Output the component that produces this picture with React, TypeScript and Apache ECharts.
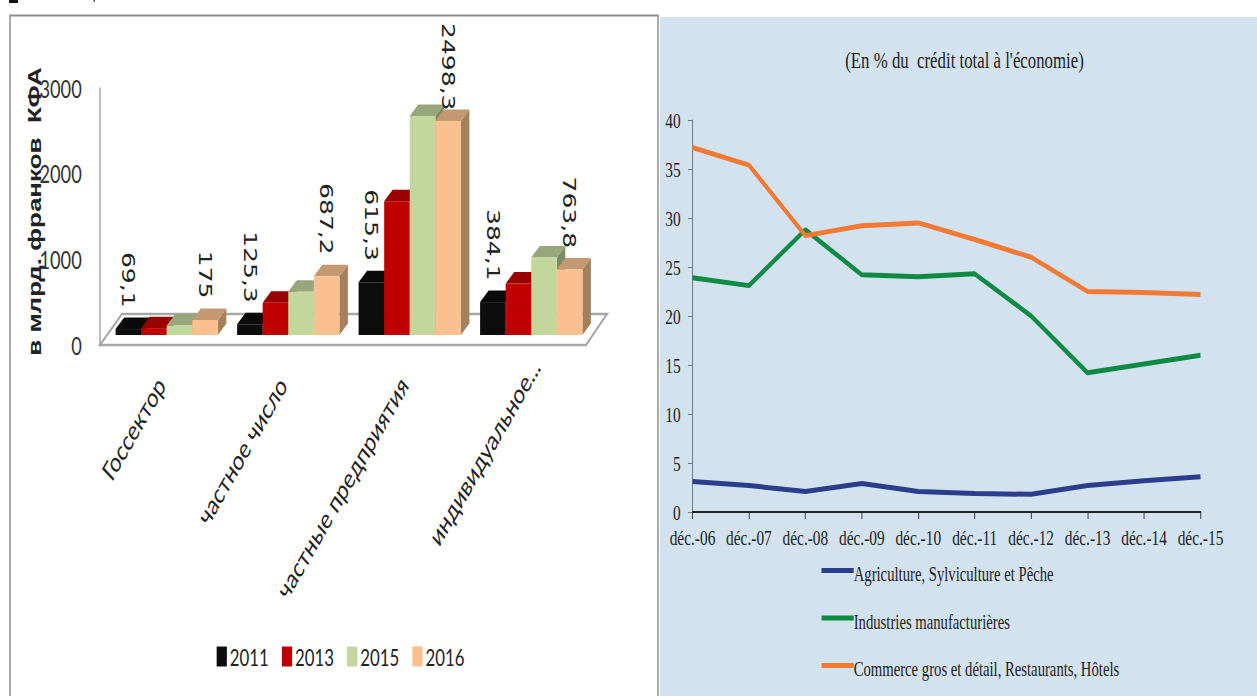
import React, { useEffect, useRef } from "react";
import * as echarts from "echarts";

const categories = ["Госсектор", "частное число", "частные предприятия", "индивидуальное..."];
const years = ["2011", "2013", "2015", "2016"];
const values2011 = [69.1, 125.3, 615.3, 384.1];
const values2013 = [80, 376, 1560, 600];
const values2015 = [110, 506, 2555, 906];
const values2016 = [175, 687.2, 2498.3, 763.8];
const yearValues = [values2011, values2013, values2015, values2016];
const labelled = [true, false, false, true];
const frontColors = ["#0d0d0d", "#c00000", "#c3d69b", "#fac090"];
const topColors = ["#0a0a0a", "#980000", "#98a67c", "#c49870"];
const sideColors = ["#050505", "#800000", "#7f8c5f", "#a5805d"];

const dates = ["déc.-06", "déc.-07", "déc.-08", "déc.-09", "déc.-10", "déc.-11", "déc.-12", "déc.-13", "déc.-14", "déc.-15"];
const agriculture = [3.1, 2.7, 2.1, 2.9, 2.1, 1.9, 1.8, 2.7, 3.2, 3.6];
const industries = [23.9, 23.1, 28.8, 24.2, 24.0, 24.3, 20, 14.2, 15.1, 16];
const commerce = [37.2, 35.4, 28.2, 29.2, 29.5, 27.8, 26, 22.5, 22.4, 22.2];
const lineNames = ["Agriculture, Sylviculture et Pêche", "Industries manufacturières", "Commerce gros et détail, Restaurants, Hôtels"];
const lineValues = [agriculture, industries, commerce];
const lineColors = ["#2b3d8b", "#0f8a43", "#f47932"];

const LSX = 0.73;
const RSX = 0.7;
const lx = (p: number) => p / LSX;
const rx = (p: number) => (p - 660) / RSX;

function leftOption(): any {
  const floor = 10;
  const dx = lx(8.5);
  const dy = 11.5;
  return {
    animation: false,
    graphic: [
      { type: "rect", shape: { x: lx(9), y: 0, width: lx(9), height: 3 }, style: { fill: "#111" } },
      { type: "rect", shape: { x: lx(93.5), y: 0, width: lx(1.5), height: 2 }, style: { fill: "#555" } },
      { type: "rect", z: -2, shape: { x: lx(10), y: 15.5, width: lx(648), height: 690 }, style: { fill: "#fff", stroke: "#8c8c8c", lineWidth: 2 } },
      {
        type: "polygon",
        z: -1,
        shape: { points: [[lx(100), 345], [lx(586), 345], [lx(607), 314], [lx(122), 314]] },
        style: { fill: "#fff", stroke: "#a6a6a6", lineWidth: 2.5 },
      },
    ],
    grid: { left: lx(106), width: lx(486), top: 88, height: 257 },
    legend: {
      left: lx(213),
      top: 640,
      data: years,
      icon: "rect",
      itemWidth: 14,
      itemHeight: 20,
      itemGap: 18,
      textStyle: { fontFamily: "Lato", fontSize: 23, color: "#222", padding: [0, 0, 0, -1] },
    },
    xAxis: {
      type: "category",
      data: categories.map((value, i) =>
        i === categories.length - 1 ? { value, textStyle: { padding: [0, -10, 0, 0] } } : value
      ),
      axisLine: { show: false },
      axisTick: { show: false },
      axisLabel: { rotate: 52, margin: 25, interval: 0, fontFamily: "Lato", fontSize: 27, color: "#222", padding: [0, 13, 0, 0] },
    },
    yAxis: {
      type: "value",
      min: 0,
      max: 3000,
      interval: 1000,
      offset: lx(6),
      name: "в млрд. франков  КФА",
      nameLocation: "middle",
      nameGap: 77,
      nameMoveOverlap: false,
      nameTextStyle: { fontFamily: "Liberation Sans", fontWeight: "bold", fontSize: 26, color: "#222", padding: [0, 0, 0, 10] },
      splitLine: { show: false },
      axisTick: { show: false },
      axisLine: { show: true, lineStyle: { color: "#8c8c8c", width: 1.5 } },
      axisLabel: { fontFamily: "Lato", fontSize: 25, color: "#333", margin: 25, formatter: (v: number) => String(v) },
    },
    series: years.map((year, s) => ({
      type: "custom",
      name: year,
      itemStyle: { color: frontColors[s] },
      data: yearValues[s].map((v, i) => [i, v]),
      encode: { x: 0, y: 1 },
      renderItem: (_: any, api: any) => {
        const value = api.value(1);
        const p = api.coord([api.value(0), value]);
        const base = api.coord([api.value(0), 0]);
        const bw = api.size([1, 0])[0] * 0.2105;
        const x0 = p[0] + (s - 2) * bw;
        const x1 = x0 + bw;
        const top = p[1] - floor;
        const bot = base[1] - floor;
        const children: any[] = [
          { type: "polygon", shape: { points: [[x1, top], [x1 + dx, top - dy], [x1 + dx, bot - dy], [x1, bot]] }, style: { fill: sideColors[s] } },
          { type: "polygon", shape: { points: [[x0, top], [x0 + dx, top - dy], [x1 + dx, top - dy], [x1, top]] }, style: { fill: topColors[s] } },
          { type: "rect", shape: { x: x0, y: top, width: bw, height: bot - top }, style: { fill: frontColors[s] } },
        ];
        if (labelled[s]) {
          children.push({
            type: "text",
            x: (x0 + x1) / 2,
            y: top - dy - (value > 2000 ? -1 : 10),
            rotation: -Math.PI / 2,
            style: {
              text: String(value).replace(".", ","),
              font: "25px 'DejaVu Sans'",
              fill: "#222",
              align: "right",
              verticalAlign: "middle",
            },
          });
        }
        return { type: "group", children };
      },
    })),
  };
}

function rightOption(): any {
  return {
    animation: false,
    backgroundColor: "#d2e2ef",
    title: {
      text: "(En % du  crédit total à l'économie)",
      left: rx(961),
      top: 43,
      textAlign: "center",
      textStyle: { fontFamily: "Liberation Serif", fontWeight: "normal", fontSize: 24, color: "#222" },
    },
    grid: { left: rx(692.5), width: (1200.5 - 692.5) / RSX, top: 120, height: 392 },
    legend: {
      orient: "vertical",
      left: rx(818),
      top: 559,
      data: lineNames,
      icon: "path://M0 0H46V5H0Z M0 13h0.01",
      itemWidth: 46,
      itemHeight: 13,
      itemGap: 26.5,
      textStyle: { fontFamily: "Liberation Serif", fontSize: 21, color: "#222", padding: [0, 0, 0, -5] },
    },
    xAxis: {
      type: "category",
      data: dates,
      boundaryGap: false,
      axisLine: { lineStyle: { color: "#222", width: 2 } },
      axisTick: { length: 7, lineStyle: { color: "#222" } },
      axisLabel: { interval: 0, margin: 14, fontFamily: "Liberation Serif", fontSize: 22, color: "#222" },
    },
    yAxis: {
      type: "value",
      min: 0,
      max: 40,
      interval: 5,
      splitLine: { show: false },
      axisLine: { show: true, lineStyle: { color: "#666" } },
      axisTick: { show: true, length: 6.5, lineStyle: { color: "#666" } },
      axisLabel: { margin: 17, fontFamily: "Liberation Serif", fontSize: 22, color: "#222" },
    },
    series: lineNames.map((name, i) => ({
      type: "line",
      name,
      data: lineValues[i],
      symbol: "none",
      itemStyle: { color: lineColors[i] },
      lineStyle: { color: lineColors[i], width: 5 },
    })),
  };
}

function Panel({ left, top, width, height, sx, build }: any) {
  const ref = useRef<HTMLDivElement>(null);
  useEffect(() => {
    const chart = echarts.init(ref.current!, undefined, { renderer: "svg" });
    chart.setOption(build());
    return () => chart.dispose();
  }, []);
  return (
    <div
      ref={ref}
      style={{
        position: "absolute",
        left,
        top,
        width: width / sx,
        height,
        transform: `scaleX(${sx})`,
        transformOrigin: "0 0",
      }}
    />
  );
}

export default function App() {
  return (
    <div style={{ position: "fixed", left: 0, top: 0, width: 1257, height: 696, overflow: "hidden", background: "#fff" }}>
      <Panel left={0} top={0} width={660} height={696} sx={LSX} build={leftOption} />
      <Panel left={660} top={0} width={597} height={696} sx={RSX} build={rightOption} />
      <div style={{ position: "absolute", left: 660, top: 0, width: 597, height: 17, background: "#fff" }} />
    </div>
  );
}
